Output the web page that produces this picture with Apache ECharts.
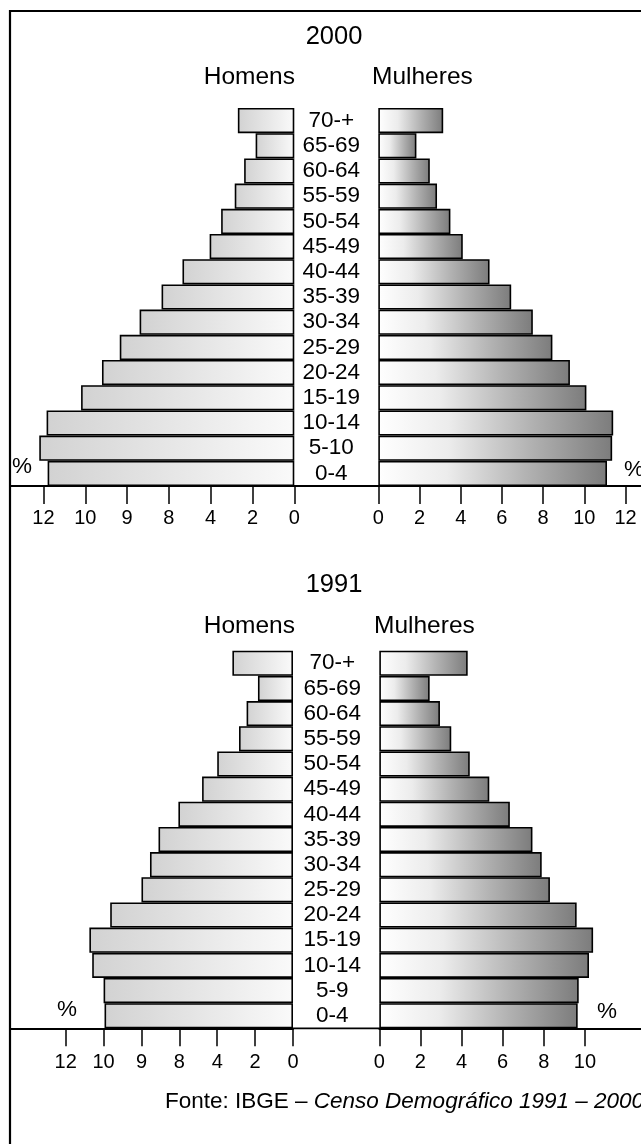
<!DOCTYPE html>
<html>
<head>
<meta charset="utf-8">
<script src="https://cdn.jsdelivr.net/npm/echarts@6/dist/echarts.min.js"></script>
<style>
  html, body { margin: 0; padding: 0; background: #fff; }
  #main { width: 641px; height: 1144px; }
</style>
</head>
<body>
<div id="main"></div>
<script>
// faixas etarias, de baixo para cima
const ages2000 = ['0-4', '5-10', '10-14', '15-19', '20-24', '25-29', '30-34', '35-39', '40-44', '45-49', '50-54', '55-59', '60-64', '65-69', '70-+']
const ages1991 = ['0-4', '5-9', '10-14', '15-19', '20-24', '25-29', '30-34', '35-39', '40-44', '45-49', '50-54', '55-59', '60-64', '65-69', '70-+']

const men2000 = [11.8, 12.2, 11.85, 10.2, 9.2, 8.35, 7.4, 6.35, 5.35, 4.05, 3.5, 2.85, 2.4, 1.85, 2.7]
const women2000 = [11.1, 11.35, 11.4, 10.1, 9.3, 8.45, 7.5, 6.45, 5.4, 4.1, 3.5, 2.85, 2.5, 1.85, 3.15]
const men1991 = [9.95, 10.0, 10.6, 10.75, 9.65, 8.0, 7.55, 7.1, 6.05, 4.8, 4.0, 2.85, 2.45, 1.85, 3.2]
const women1991 = [9.65, 9.7, 10.2, 10.4, 9.6, 8.3, 7.9, 7.45, 6.35, 5.35, 4.4, 3.5, 2.95, 2.45, 4.3]

// rotulos do eixo (como impressos no original)
const leftTickValues = [12, 10, 8, 6, 4, 2, 0]
const leftTickLabels = ['12', '10', '9', '8', '4', '2', '0']
const rightTicksTop = [0, 2, 4, 6, 8, 10, 12]
const rightTicksBottom = [0, 2, 4, 6, 8, 10]

const FONT = "'Liberation Sans', Arial, sans-serif"

const leftLabelMap = {}
leftTickValues.forEach((v, i) => { leftLabelMap[v] = leftTickLabels[i] })

const menFill = {
  type: 'linear', x: 0, y: 0, x2: 1, y2: 0,
  colorStops: [{ offset: 0, color: '#d2d2d2' }, { offset: 1, color: '#fafafa' }]
}
const womenFill = {
  type: 'linear', x: 0, y: 0, x2: 1, y2: 0,
  colorStops: [
    { offset: 0, color: '#ffffff' },
    { offset: 0.3, color: '#ececec' },
    { offset: 0.65, color: '#b2b2b2' },
    { offset: 1, color: '#7c7c7c' }
  ]
}

function xAx(gridIndex, max, inverse, ticks, labelFn, margin) {
  return {
    type: 'value', gridIndex, min: 0, max, inverse,
    axisLine: { show: true, lineStyle: { color: '#000', width: 1.8 } },
    axisTick: { show: true, length: 18, lineStyle: { color: '#000', width: 1.5 }, customValues: ticks },
    axisLabel: {
      show: true, color: '#000', fontSize: 20, fontFamily: FONT, margin,
      customValues: ticks, formatter: labelFn
    },
    splitLine: { show: false }
  }
}

function yAx(gridIndex, cats, showLabels) {
  return {
    type: 'category', gridIndex, data: cats,
    axisLine: { show: false }, axisTick: { show: false }, splitLine: { show: false },
    axisLabel: {
      show: showLabels, interval: 0, color: '#000', fontSize: 22.5, fontFamily: FONT,
      margin: 47, align: 'center', padding: [12, 0, 0, 0]
    }
  }
}

function bars(idx, data, fill) {
  return {
    type: 'bar', xAxisIndex: idx, yAxisIndex: idx, data,
    barCategoryGap: '0%', silent: true,
    itemStyle: { color: fill, borderColor: '#000', borderWidth: 1.6 }
  }
}

function txt(x, y, text, size, align) {
  return {
    type: 'text', x, y, silent: true,
    style: { text, fontSize: size, fontFamily: FONT, fill: '#000', align: align || 'center', verticalAlign: 'middle' }
  }
}

const leftFmt = v => leftLabelMap[v] !== undefined ? leftLabelMap[v] : ''
const rightFmt = v => String(v)

var myChart = echarts.init(document.getElementById('main'), null, { renderer: 'canvas' })

myChart.setOption({
  animation: false,
  backgroundColor: '#fff',
  grid: [
    { left: 10, top: 108, width: 284.3, height: 378 },
    { left: 378.3, top: 108, width: 262.7, height: 378 },
    { left: 10, top: 650.7, width: 283, height: 377.6 },
    { left: 379.3, top: 650.7, width: 261.7, height: 377.6 }
  ],
  xAxis: [
    xAx(0, 13.6, true, leftTickValues, leftFmt, 22),
    xAx(1, 12.75, false, rightTicksTop, rightFmt, 22),
    xAx(2, 14.94, true, leftTickValues, leftFmt, 24),
    xAx(3, 12.73, false, rightTicksBottom, rightFmt, 24)
  ],
  yAxis: [
    yAx(0, ages2000, false),
    yAx(1, ages2000, true),
    yAx(2, ages1991, false),
    yAx(3, ages1991, true)
  ],
  series: [
    bars(0, men2000, menFill),
    bars(1, women2000, womenFill),
    bars(2, men1991, menFill),
    bars(3, women1991, womenFill)
  ],
  graphic: [
    // moldura
    { type: 'rect', silent: true, shape: { x: 10, y: 11, width: 700, height: 1200 }, style: { fill: null, stroke: '#000', lineWidth: 2.2 } },
    // trecho do eixo entre as duas metades
    { type: 'line', silent: true, shape: { x1: 294, y1: 486, x2: 379, y2: 486 }, style: { stroke: '#000', lineWidth: 1.8 } },
    { type: 'line', silent: true, shape: { x1: 293, y1: 1028.3, x2: 380, y2: 1028.3 }, style: { stroke: '#000', lineWidth: 1.8 } },
    txt(334, 37, '2000', 25.5),
    txt(295, 77, 'Homens', 24.5, 'right'),
    txt(372, 77, 'Mulheres', 24.5, 'left'),
    txt(334, 585, '1991', 25.5),
    txt(295, 626, 'Homens', 24.5, 'right'),
    txt(374, 626, 'Mulheres', 24.5, 'left'),
    txt(12, 467, '%', 22.5, 'left'),
    txt(624, 470, '%', 22.5, 'left'),
    txt(57, 1010, '%', 22.5, 'left'),
    txt(597, 1012, '%', 22.5, 'left'),
    {
      type: 'text', x: 165, y: 1102, silent: true,
      style: {
        text: '{n|Fonte: IBGE – }{i|Censo Demográfico 1991 – 2000}',
        verticalAlign: 'middle', align: 'left',
        rich: {
          n: { fontSize: 22.5, fontFamily: FONT, fill: '#000' },
          i: { fontSize: 22.5, fontFamily: FONT, fontStyle: 'italic', fill: '#000' }
        }
      }
    }
  ]
})
</script>
</body>
</html>
